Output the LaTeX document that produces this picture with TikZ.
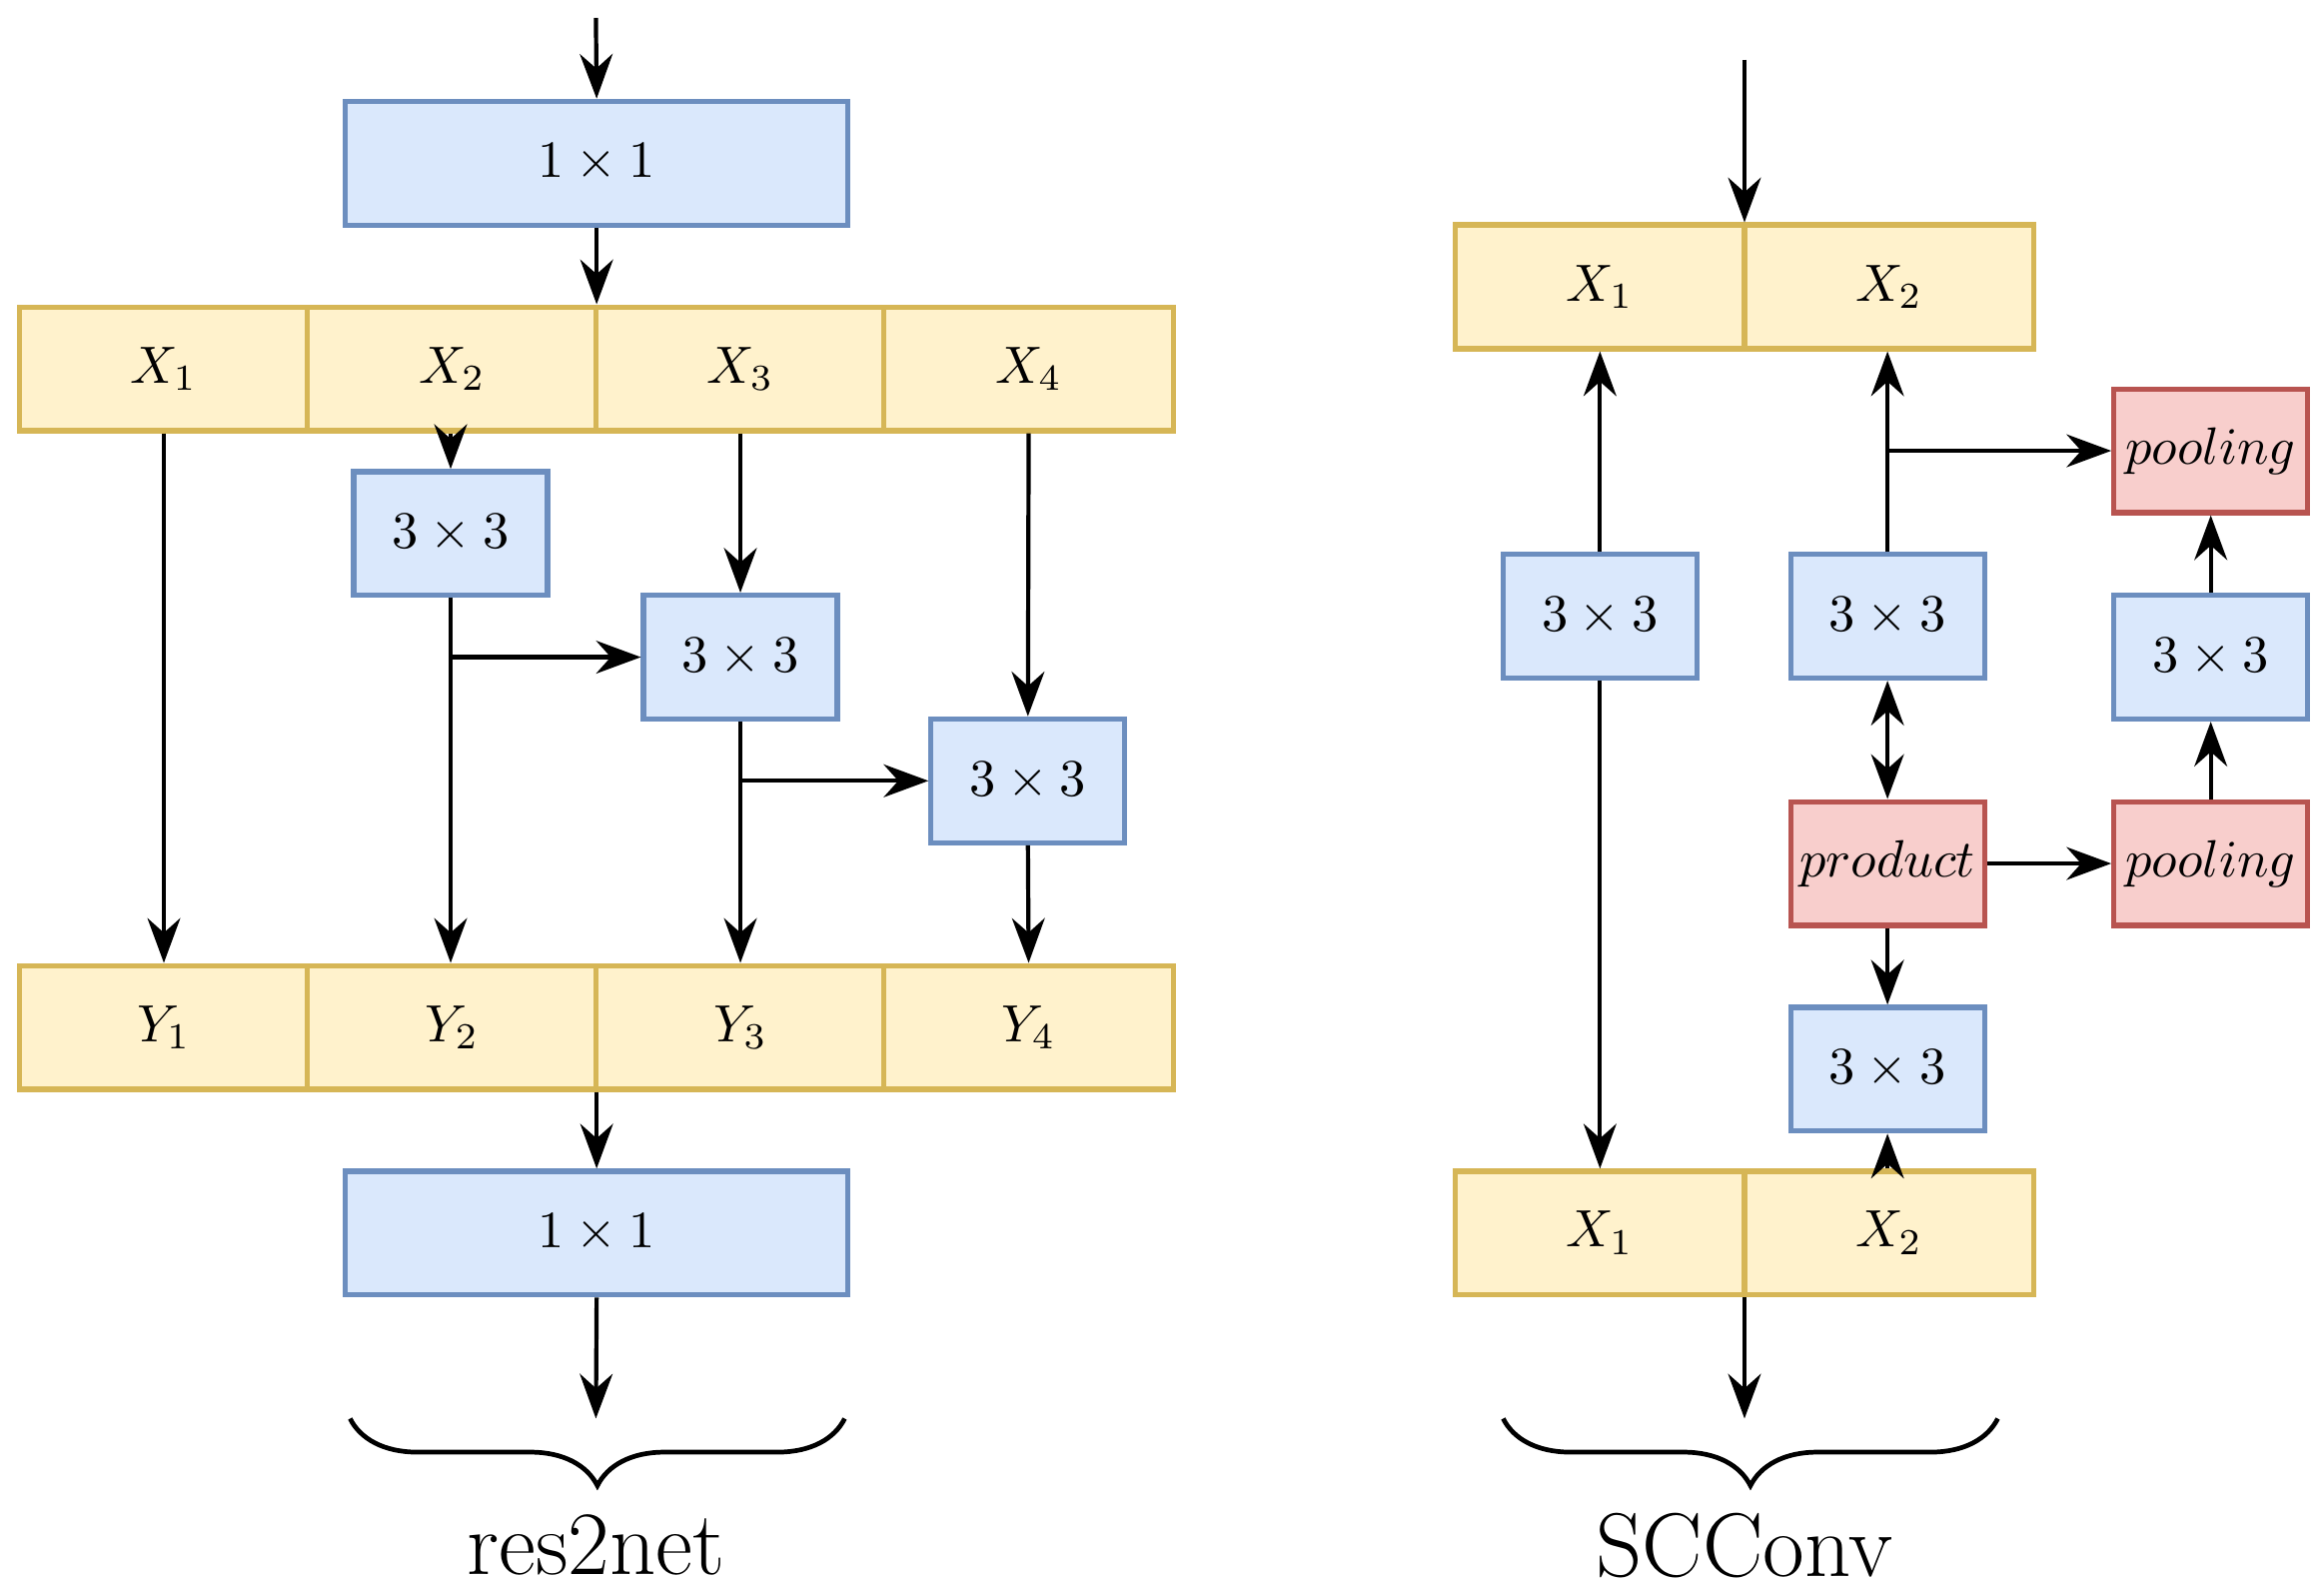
\documentclass[tikz,border=0pt]{standalone}
\usetikzlibrary{arrows.meta,decorations.pathreplacing}
\definecolor{bfill}{HTML}{DAE8FC}\definecolor{bdraw}{HTML}{6C8EBF}
\definecolor{yfill}{HTML}{FFF2CC}\definecolor{ydraw}{HTML}{D6B656}
\definecolor{rfill}{HTML}{F8CECC}\definecolor{rdraw}{HTML}{B85450}
\tikzset{
  conv/.style={draw=bdraw, fill=bfill, line width=1pt, minimum width=1.3cm, minimum height=0.83cm, inner sep=0pt},
  wide/.style={conv, minimum width=3.37cm},
  cell/.style={draw=ydraw, fill=yfill, line width=1pt, minimum width=1.94cm, minimum height=0.83cm, inner sep=0pt},
  op/.style={draw=rdraw, fill=rfill, line width=1pt, minimum width=1.3cm, minimum height=0.83cm, inner sep=0pt},
  arr/.style={-{Stealth[length=3mm,width=2.2mm]}, line width=0.8pt},
  dbl/.style={{Stealth[length=3mm,width=2.2mm]}-{Stealth[length=3mm,width=2.2mm]}, line width=0.8pt},
  brc/.style={decorate, decoration={brace, amplitude=4.5mm}, line width=0.9pt}
}
\begin{document}
\begin{tikzpicture}[x=0.01cm, y=-0.01cm]
        \useasboundingbox (0,0) rectangle (1560,1066);
        % res2net
        \coordinate (in) at (400,12);
        \node[wide] (c1) at (400.5,109.5) {$1\times1$};
        \foreach \i/\x in {1/110,2/303.5,3/497,4/690.5} {
            \node[cell] (x\i) at (\x,247.5) {$X_{\i}$};
            \node[cell] (y\i) at (\x,689.5) {$Y_{\i}$};
        }
        \node[conv] (b1) at (302.5,358) {$3\times3$};
        \node[conv] (b2) at (497,441) {$3\times3$};
        \node[conv] (b3) at (690,524) {$3\times3$};
        \node[wide] (c2) at (400.5,827.5) {$1\times1$};
        \coordinate (out) at (400,952);
        \draw[arr] (in) -- (c1.north);
        \draw[arr] (c1.south) -- (c1.south |- x2.north);
        \draw[arr] (x1.south) -- (y1.north);
        \draw[arr] (b1.north |- x2.south) -- (b1.north);
        \draw[arr] (b1.south) -- (b1.south |- y2.north);
        \draw[arr] (b1.south |- b2.west) -- (b2.west);
        \draw[arr] (x3.south) -- (b2.north);
        \draw[arr] (b2.south) -- (y3.north);
        \draw[arr] (b2.south |- b3.west) -- (b3.west);
        \draw[arr] (x4.south) -- (b3.north);
        \draw[arr] (b3.south) -- (y4.north);
        \draw[arr] (c2.north |- y2.south) -- (c2.north);
        \draw[arr] (c2.south) -- (out);
        \draw[brc] (567,952) -- (235,952);
        \node[font=\LARGE] (l1) at (400,1037) {res2net};
        % SCConv
        \coordinate (sin) at (1171,40);
        \node[cell] (t1) at (1074,192.5) {$X_1$};
        \node[cell] (t2) at (1268,192.5) {$X_2$};
        \node[cell] (d1) at (1074,827.5) {$X_1$};
        \node[cell] (d2) at (1268,827.5) {$X_2$};
        \node[conv] (k1) at (1074,413.5) {$3\times3$};
        \node[conv] (k2) at (1267,413.5) {$3\times3$};
        \node[conv] (k3) at (1484,441) {$3\times3$};
        \node[conv] (k4) at (1267,717.5) {$3\times3$};
        \node[op] (pr) at (1267,579.5) {$product$};
        \node[op] (p1) at (1484,302.5) {$pooling$};
        \node[op] (p2) at (1484,579.5) {$pooling$};
        \coordinate (sout) at (1171,952);
        \draw[arr] (sin) -- (sin |- t1.north);
        \draw[arr] (k1.north) -- (t1.south);
        \draw[arr] (k1.south) -- (d1.north);
        \draw[arr] (k2.north) -- (k2.north |- t2.south);
        \draw[arr] (k2.north |- p1.west) -- (p1.west);
        \draw[dbl] (k2.south) -- (pr.north);
        \draw[arr] (pr.east) -- (p2.west);
        \draw[arr] (p2.north) -- (k3.south);
        \draw[arr] (k3.north) -- (p1.south);
        \draw[arr] (pr.south) -- (k4.north);
        \draw[arr] (k4.south |- d2.north) -- (k4.south);
        \draw[arr] (sout |- d1.south) -- (sout);
        \draw[brc] (1341,952) -- (1009,952);
        \node[font=\LARGE] (l2) at (1171,1037) {SCConv};
\end{tikzpicture}
\end{document}
